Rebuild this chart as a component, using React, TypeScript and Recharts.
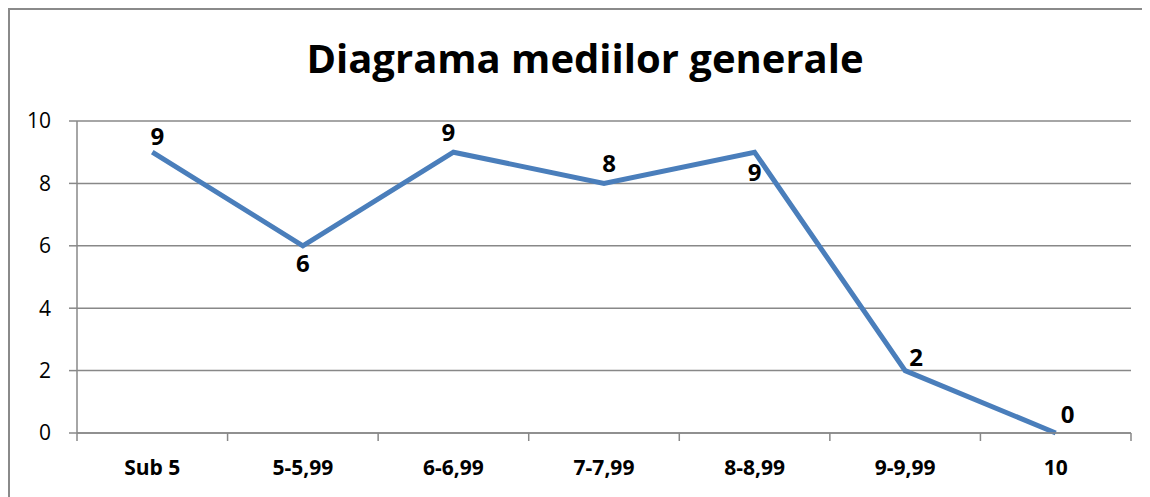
import React from 'react';
import { LineChart, Line, XAxis, YAxis, CartesianGrid, LabelList } from 'recharts';

const categories = ['Sub 5', '5-5,99', '6-6,99', '7-7,99', '8-8,99', '9-9,99', '10'];
const counts = [9, 6, 9, 8, 9, 2, 0];
const yTicks = [0, 2, 4, 6, 8, 10];

// where each data label sits relative to its point (dx, dy)
const labelOffsets = [
  [5, -15], [0, 18], [-5, -19], [5, -19], [0, 21], [11, -13], [12, -18],
];

const data = categories.map((name, i) => ({ name, value: counts[i] }));

const CHART_W = 1140;
const CHART_H = 487;
const MARGIN = { top: 111, right: 19, bottom: 0, left: 0 };
const Y_WIDTH = 67;
const X_HEIGHT = 64;
const PLOT_W = CHART_W - MARGIN.right - Y_WIDTH;
const BAND = PLOT_W / categories.length;

const GRID = '#888888';
const FONT = '"Open Sans", "Noto Sans", sans-serif';

const CategoryTick = (props: any) => {
  const { x, y, payload, index } = props;
  const left = x - BAND / 2;
  return (
    <g>
      <line x1={left} y1={y - 8} x2={left} y2={y} stroke={GRID} strokeWidth={1.5} />
      {index === categories.length - 1 && (
        <line x1={x + BAND / 2} y1={y - 8} x2={x + BAND / 2} y2={y} stroke={GRID} strokeWidth={1.5} />
      )}
      <text x={x} y={y + 34} textAnchor="middle" fontFamily={FONT} fontWeight={700} fontSize={21} fill="#000">
        {payload.value}
      </text>
    </g>
  );
};

const PointLabel = (props: any) => {
  const { x, y, value, index } = props;
  const [dx, dy] = labelOffsets[index] || [0, -15];
  return (
    <text x={x + dx} y={y + dy} dy={8} textAnchor="middle" fontFamily={FONT} fontWeight={700} fontSize={24} fill="#000">
      {value}
    </text>
  );
};

export default function App() {
  return (
    <div
      style={{
        position: 'relative',
        width: 1200,
        height: 560,
        borderLeft: '2px solid #8a8a8a',
        borderTop: '2px solid #8a8a8a',
        background: '#fff',
      }}
    >
      <div
        style={{
          position: 'absolute',
          left: 0,
          top: 28,
          width: 1150,
          textAlign: 'center',
          fontFamily: FONT,
          fontWeight: 700,
          fontSize: 40,
          lineHeight: '40px',
          color: '#000',
        }}
      >
        Diagrama mediilor generale
      </div>
      <LineChart width={CHART_W} height={CHART_H} data={data} margin={MARGIN}>
        <CartesianGrid vertical={false} stroke={GRID} strokeWidth={1.5} />
        <XAxis
          dataKey="name"
          height={X_HEIGHT}
          padding={{ left: BAND / 2, right: BAND / 2 }}
          axisLine={{ stroke: GRID, strokeWidth: 1.5 }}
          tickLine={false}
          tick={<CategoryTick />}
          interval={0}
        />
        <YAxis
          width={Y_WIDTH}
          domain={[0, 10]}
          ticks={yTicks}
          axisLine={{ stroke: GRID, strokeWidth: 1.5 }}
          tickLine={{ stroke: GRID, strokeWidth: 1.5 }}
          tickSize={8}
          tick={{ fontFamily: FONT, fontSize: 21, fill: '#000' }}
          tickMargin={18}
        />
        <Line
          type="linear"
          dataKey="value"
          stroke="#4a7ebb"
          strokeWidth={5}
          dot={false}
          isAnimationActive={false}
        >
          <LabelList dataKey="value" content={<PointLabel />} />
        </Line>
      </LineChart>
    </div>
  );
}
